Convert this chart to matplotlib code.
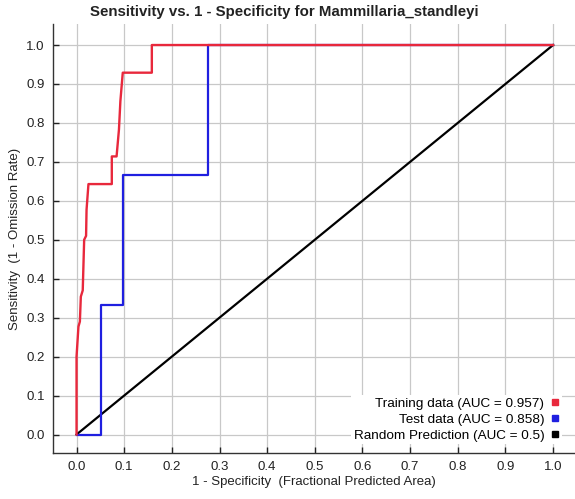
import matplotlib
matplotlib.use("Agg")
import matplotlib.pyplot as plt
from matplotlib.lines import Line2D

plt.rcParams['font.family'] = ['Liberation Sans', 'DejaVu Sans']

# ROC curve points
train_fpr = [0, 0, 0.004, 0.007, 0.009, 0.013, 0.016, 0.020, 0.021, 0.025,
             0.074, 0.074, 0.084, 0.089, 0.092, 0.097, 0.158, 0.158, 1.0]
train_tpr = [0, 0.2, 0.277, 0.29, 0.354, 0.37, 0.5, 0.51, 0.577, 0.643,
             0.643, 0.714, 0.714, 0.783, 0.856, 0.929, 0.929, 1.0, 1.0]

test_fpr = [0, 0.052, 0.052, 0.098, 0.098, 0.275, 0.275, 1.0]
test_tpr = [0, 0, 0.333, 0.333, 0.667, 0.667, 1.0, 1.0]

random_fpr = [0, 1]
random_tpr = [0, 1]

labels = ['Training data (AUC = 0.957)', 'Test data (AUC = 0.858)',
          'Random Prediction (AUC = 0.5)']
colors = ['#e8283c', '#1f1fe0', '#000000']
ticks = [i / 10 for i in range(11)]
tick_labels = ['%.1f' % t for t in ticks]

fig = plt.figure(figsize=(5.75, 4.99), dpi=100)
ax = fig.add_axes([53 / 575, 1 - 453 / 499, 522 / 575, 429 / 499])

ax.plot(random_fpr, random_tpr, color=colors[2], lw=1.6, zorder=3)
ax.plot(test_fpr, test_tpr, color=colors[1], lw=1.6, zorder=4)
ax.plot(train_fpr, train_tpr, color=colors[0], lw=1.7, zorder=5)

ax.set_xlim(-0.0494, 1.046)
ax.set_ylim(-0.0475, 1.054)
ax.set_xticks(ticks)
ax.set_xticklabels(tick_labels)
ax.set_yticks(ticks)
ax.set_yticklabels(tick_labels)
ax.tick_params(direction='in', length=4, width=1, labelsize=9.5, colors='#222222', pad=6)
ax.grid(True, color='#c8c8c8', lw=0.9)
ax.set_axisbelow(True)
for side in ['top', 'right']:
    ax.spines[side].set_visible(False)
for side in ['left', 'bottom']:
    ax.spines[side].set_color('#333333')
    ax.spines[side].set_linewidth(1.0)

ax.set_xlabel('1 - Specificity  (Fractional Predicted Area)', fontsize=9.5, labelpad=2, color='#222222')
ax.set_ylabel('Sensitivity  (1 - Omission Rate)', fontsize=9.5, labelpad=4, color='#222222')
fig.text(0.495, 0.975, 'Sensitivity vs. 1 - Specificity for Mammillaria_standleyi',
         ha='center', va='center', fontsize=10.8, fontweight='bold', color='#222222')

handles = [Line2D([], [], ls='none', marker='s', markersize=4, color=c) for c in colors]
leg = ax.legend(handles, labels, loc='lower right', bbox_to_anchor=(0.975, 0.02),
                markerfirst=False, fontsize=9.7, frameon=True, fancybox=False,
                framealpha=1, edgecolor='none', facecolor='white',
                handlelength=0.6, handletextpad=0.5, labelspacing=0.25,
                borderpad=0.2, borderaxespad=0)
leg.set_zorder(6)

fig.savefig('out.png', dpi=100)
